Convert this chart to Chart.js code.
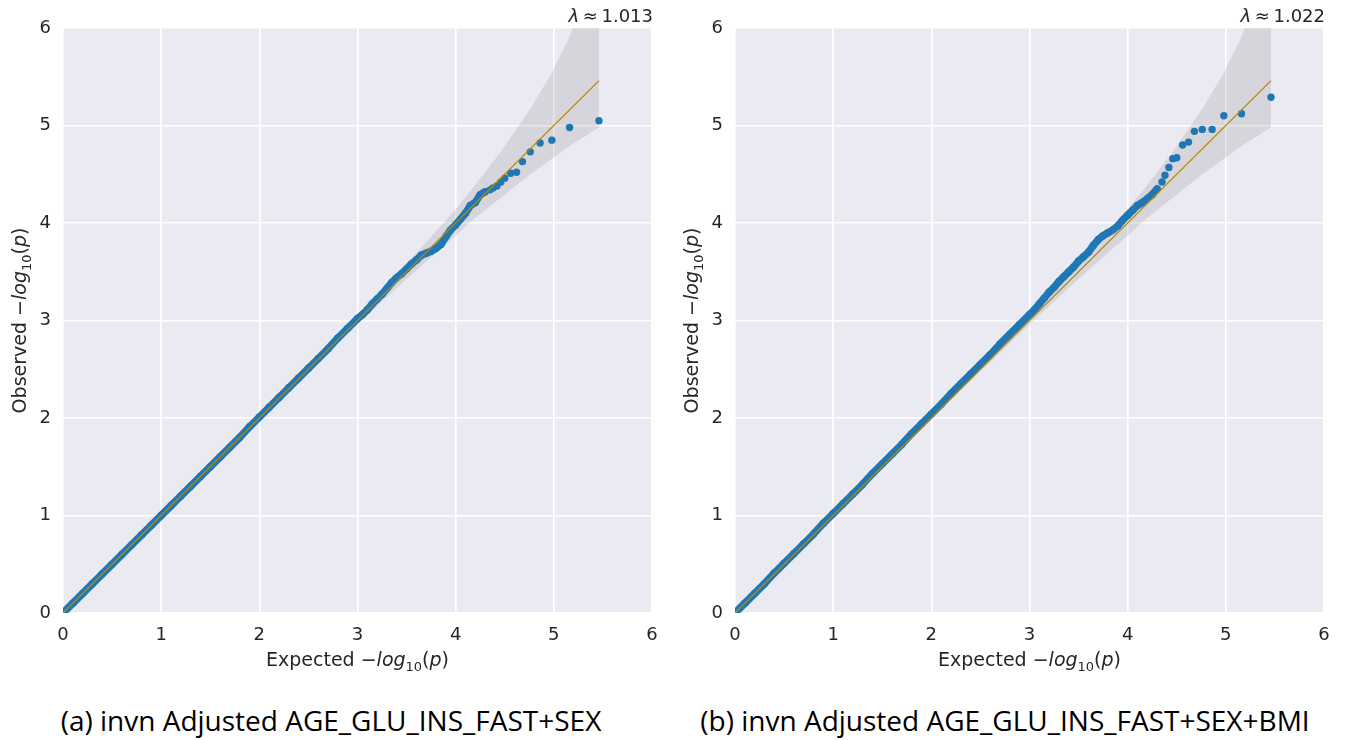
<!DOCTYPE html>
<html>
<head>
<meta charset="utf-8">
<script src="https://cdn.jsdelivr.net/npm/chart.js@4.4.1/dist/chart.umd.min.js"></script>
<style>
  html, body { margin:0; padding:0; background:#fff; }
  body { width:1346px; height:740px; position:relative; overflow:hidden; }
  .panel { position:absolute; top:0; width:672px; height:700px; }
  .cap { position:absolute; top:703px; width:662px; text-align:center; font:28px "Open Sans", "DejaVu Sans", sans-serif; line-height:34px; color:#000; white-space:nowrap; }
</style>
</head>
<body>
<div class="panel" style="left:0"><canvas id="qqA" width="672" height="700"></canvas></div>
<div class="panel" style="left:672px"><canvas id="qqB" width="672" height="700"></canvas></div>
<div class="cap" style="left:0">(a) invn Adjusted AGE_GLU_INS_FAST+SEX</div>
<div class="cap" style="left:674px">(b) invn Adjusted AGE_GLU_INS_FAST+SEX+BMI</div>
<script>
// expected -log10(p), dense part of the cloud and the sparse tail
const expectedDense = [0,0.1,0.2,0.3,0.4,0.5,0.6,0.7,0.8,0.9,1.0,1.1,1.2,1.3,1.4,1.5,1.6,1.7,1.8,1.9,2.0,
  2.1,2.2,2.3,2.4,2.5,2.6,2.7,2.8,2.9,3.0,3.05,3.1,3.15,3.2,3.25,3.3,3.35,3.4,3.45,3.5,3.55,3.6,3.65,
  3.7,3.75,3.8,3.85,3.9,3.95,4.0,4.05,4.1,4.15,4.2,4.25,4.3];
const expectedTail = [4.35,4.38,4.42,4.46,4.5,4.56,4.62,4.68,4.76,4.86,4.98,5.16,5.46];

// observed -log10(p), panel (a)
const observedDenseA = [0,0.1,0.2,0.3,0.4,0.5,0.6,0.7,0.8,0.9,1.0,1.1,1.2,1.3,1.4,1.5,1.6,1.7,1.8,1.91,2.01,
  2.11,2.21,2.31,2.41,2.51,2.61,2.71,2.82,2.92,3.02,3.06,3.11,3.17,3.22,3.27,3.33,3.39,3.44,3.48,3.53,3.58,3.62,3.67,
  3.69,3.71,3.74,3.78,3.86,3.93,3.98,4.04,4.10,4.18,4.21,4.29,4.32];
const observedTailA = [4.34,4.36,4.38,4.42,4.46,4.51,4.52,4.63,4.73,4.82,4.85,4.98,5.05];

// observed -log10(p), panel (b)
const observedDenseB = [0,0.1,0.2,0.3,0.41,0.51,0.61,0.71,0.81,0.92,1.02,1.12,1.22,1.32,1.43,1.53,1.63,1.73,1.84,1.94,2.04,
  2.14,2.25,2.35,2.45,2.55,2.65,2.76,2.86,2.96,3.06,3.11,3.17,3.23,3.29,3.34,3.40,3.45,3.50,3.55,3.61,3.655,3.70,3.77,
  3.83,3.87,3.90,3.93,3.97,4.03,4.08,4.13,4.18,4.21,4.25,4.29,4.35];
const observedTailB = [4.42,4.49,4.57,4.66,4.67,4.80,4.83,4.94,4.96,4.96,5.10,5.12,5.29];

// confidence band around the expected line
const bandX    = [0,1,2,2.5,3,3.25,3.46,3.76,3.99,4.16,4.46,4.76,4.98,5.16,5.46];
const bandLow  = [0,0.996,1.987,2.477,2.958,3.195,3.39,3.66,3.86,4.02,4.26,4.50,4.66,4.79,4.98];
const bandHigh = [0,1.004,2.013,2.523,3.042,3.305,3.54,3.87,4.13,4.34,4.73,5.17,5.54,5.91,6.75];

// reference line
const diagX = [0,5.46];
const diagY = [0,5.46];

const axisTicks = [0,1,2,3,4,5,6];
const lambdas = ['1.013','1.022'];

const ink = '#262626', dot = '#1f77b4', gold = '#b8860b';
const pts = (xs, ys) => xs.map((x,i)=>({x, y:ys[i]}));

function drawRich(ctx, parts, x, y, size, align){
  const fnt = st => st==='i' ? `italic ${size}px "DejaVu Sans"` : st==='s' ? `${Math.round(size*0.7)}px "DejaVu Sans"` : `${size}px "DejaVu Sans"`;
  let w=0;
  const ws = parts.map(([t,st])=>{ ctx.font=fnt(st); const m=ctx.measureText(t).width; w+=m; return m; });
  let cx = align==='right' ? x-w : x-w/2;
  ctx.textAlign='left'; ctx.textBaseline='alphabetic'; ctx.fillStyle=ink;
  parts.forEach(([t,st],i)=>{ ctx.font=fnt(st); ctx.fillText(t, cx, st==='s' ? y+size*0.25 : y); cx+=ws[i]; });
}

const logLabel = [['\u2212','n'],['log','i'],['10','s'],['(','n'],['p','i'],[')','n']];

const qqDecor = {
  id:'qqDecor',
  beforeDraw(chart){
    const {ctx, chartArea:a} = chart;
    ctx.save(); ctx.fillStyle='#eaeaf2'; ctx.fillRect(a.left, a.top, a.right-a.left, a.bottom-a.top); ctx.restore();
  },
  afterDraw(chart){
    const {ctx, chartArea:a} = chart;
    const o = chart.options.plugins.qqDecor;
    ctx.save();
    drawRich(ctx, [['Expected ','n'], ...logLabel], (a.left+a.right)/2, 666, 19, 'center');
    ctx.translate(26, (a.top+a.bottom)/2); ctx.rotate(-Math.PI/2);
    drawRich(ctx, [['Observed ','n'], ...logLabel], 0, 0, 19, 'center');
    ctx.restore();
    ctx.save();
    drawRich(ctx, [['\u03bb','i'],['\u2009\u2248\u2009','n'],[o.lambda,'n']], a.right+1, 22, 18, 'right');
    ctx.restore();
  }
};

function makeChart(id, obsDense, obsTail, lambda){
  const axis = (w, h) => ({
    type:'linear', min:0, max:6,
    afterBuildTicks: s => { s.ticks = axisTicks.map(v=>({value:v})); },
    afterFit: s => { if(w) s.width=w; if(h) s.height=h; },
    grid:{ color:'#ffffff', lineWidth:1.6, drawTicks:false },
    border:{ display:false },
    ticks:{ color:ink, padding:12, font:{ family:'DejaVu Sans', size:18 } }
  });
  return new Chart(document.getElementById(id), {
    type:'scatter',
    data:{ datasets:[
      { data:pts(diagX, diagY), showLine:true, borderColor:gold, borderWidth:1.3, pointRadius:0, order:0 },
      { data:pts(expectedTail, obsTail), backgroundColor:dot, borderWidth:0, pointRadius:3.7, order:1 },
      { data:pts(expectedDense, obsDense), showLine:true, borderColor:dot, borderWidth:7.4,
        borderJoinStyle:'round', borderCapStyle:'round', backgroundColor:dot, pointBorderWidth:0, pointRadius:3.7, order:1 },
      { data:pts(bandX, bandLow), showLine:true, borderColor:'rgba(0,0,0,0)', borderWidth:0, pointRadius:0, fill:false, order:3 },
      { data:pts(bandX, bandHigh), showLine:true, borderColor:'rgba(0,0,0,0)', borderWidth:0, pointRadius:0,
        fill:'-1', backgroundColor:'rgba(128,128,128,0.2)', order:3 }
    ]},
    options:{
      responsive:false, animation:false, devicePixelRatio:1,
      layout:{ padding:{ left:0, right:20, top:28, bottom:0 } },
      scales:{ x:axis(0, 87), y:axis(63, 0) },
      plugins:{ legend:{display:false}, tooltip:{enabled:false}, qqDecor:{ lambda } }
    },
    plugins:[qqDecor]
  });
}

makeChart('qqA', observedDenseA, observedTailA, lambdas[0]);
makeChart('qqB', observedDenseB, observedTailB, lambdas[1]);
</script>
</body>
</html>
